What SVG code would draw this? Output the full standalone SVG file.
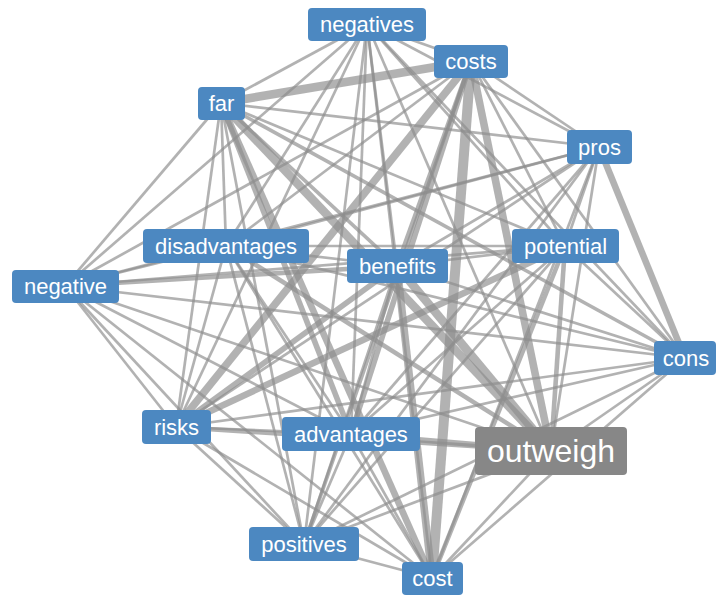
<svg xmlns="http://www.w3.org/2000/svg" width="716" height="597" viewBox="0 0 716 597">
<style>
.e{stroke:#8e8e8e;stroke-opacity:0.68;stroke-width:2.7;fill:none}
.w3{stroke-width:3.6}
.w4{stroke-width:4.6}
.w5{stroke-width:5.6}
.w6{stroke-width:6.6}
.w7{stroke-width:7.6}
.w8{stroke-width:8.6}
.w10{stroke-width:10}
.n rect{fill:#4c88c1;rx:4;ry:4}
.n text{fill:#ffffff;font-family:"Liberation Sans",Arial,Helvetica,sans-serif;font-size:22px;text-anchor:middle}
.big rect{fill:#878787}
.big text{font-size:32px}
</style>
<rect width="716" height="597" fill="#ffffff"/>
<g id="connectors">
<line class="e" x1="367" y1="24" x2="471" y2="61"/>
<line class="e" x1="367" y1="24" x2="221" y2="103"/>
<line class="e" x1="367" y1="24" x2="599" y2="147"/>
<line class="e" x1="367" y1="24" x2="226" y2="246"/>
<line class="e" x1="367" y1="24" x2="565" y2="246"/>
<line class="e" x1="367" y1="24" x2="397" y2="266"/>
<line class="e" x1="367" y1="24" x2="65" y2="286"/>
<line class="e" x1="367" y1="24" x2="685" y2="358"/>
<line class="e" x1="367" y1="24" x2="176" y2="427"/>
<line class="e" x1="367" y1="24" x2="351" y2="434"/>
<line class="e" x1="367" y1="24" x2="551" y2="451"/>
<line class="e" x1="367" y1="24" x2="304" y2="544"/>
<line class="e" x1="367" y1="24" x2="432" y2="578"/>
<line class="e w8" x1="471" y1="61" x2="221" y2="103"/>
<line class="e" x1="471" y1="61" x2="599" y2="147"/>
<line class="e" x1="471" y1="61" x2="226" y2="246"/>
<line class="e" x1="471" y1="61" x2="565" y2="246"/>
<line class="e w4" x1="471" y1="61" x2="397" y2="266"/>
<line class="e" x1="471" y1="61" x2="65" y2="286"/>
<line class="e" x1="471" y1="61" x2="685" y2="358"/>
<line class="e w7" x1="471" y1="61" x2="176" y2="427"/>
<line class="e w5" x1="471" y1="61" x2="351" y2="434"/>
<line class="e w7" x1="471" y1="61" x2="551" y2="451"/>
<line class="e w3" x1="471" y1="61" x2="304" y2="544"/>
<line class="e w10" x1="471" y1="61" x2="432" y2="578"/>
<line class="e" x1="221" y1="103" x2="599" y2="147"/>
<line class="e" x1="221" y1="103" x2="226" y2="246"/>
<line class="e" x1="221" y1="103" x2="565" y2="246"/>
<line class="e w3" x1="221" y1="103" x2="397" y2="266"/>
<line class="e" x1="221" y1="103" x2="65" y2="286"/>
<line class="e w3" x1="221" y1="103" x2="685" y2="358"/>
<line class="e" x1="221" y1="103" x2="176" y2="427"/>
<line class="e w5" x1="221" y1="103" x2="351" y2="434"/>
<line class="e w8" x1="221" y1="103" x2="551" y2="451"/>
<line class="e" x1="221" y1="103" x2="304" y2="544"/>
<line class="e w6" x1="221" y1="103" x2="432" y2="578"/>
<line class="e" x1="599" y1="147" x2="226" y2="246"/>
<line class="e" x1="599" y1="147" x2="565" y2="246"/>
<line class="e" x1="599" y1="147" x2="397" y2="266"/>
<line class="e" x1="599" y1="147" x2="65" y2="286"/>
<line class="e w6" x1="599" y1="147" x2="685" y2="358"/>
<line class="e" x1="599" y1="147" x2="176" y2="427"/>
<line class="e" x1="599" y1="147" x2="351" y2="434"/>
<line class="e" x1="599" y1="147" x2="551" y2="451"/>
<line class="e" x1="599" y1="147" x2="304" y2="544"/>
<line class="e" x1="599" y1="147" x2="432" y2="578"/>
<line class="e" x1="226" y1="246" x2="565" y2="246"/>
<line class="e" x1="226" y1="246" x2="397" y2="266"/>
<line class="e" x1="226" y1="246" x2="65" y2="286"/>
<line class="e" x1="226" y1="246" x2="685" y2="358"/>
<line class="e" x1="226" y1="246" x2="176" y2="427"/>
<line class="e" x1="226" y1="246" x2="351" y2="434"/>
<line class="e w4" x1="226" y1="246" x2="551" y2="451"/>
<line class="e" x1="226" y1="246" x2="304" y2="544"/>
<line class="e" x1="226" y1="246" x2="432" y2="578"/>
<line class="e" x1="565" y1="246" x2="397" y2="266"/>
<line class="e" x1="565" y1="246" x2="65" y2="286"/>
<line class="e" x1="565" y1="246" x2="685" y2="358"/>
<line class="e w6" x1="565" y1="246" x2="176" y2="427"/>
<line class="e" x1="565" y1="246" x2="351" y2="434"/>
<line class="e w4" x1="565" y1="246" x2="551" y2="451"/>
<line class="e" x1="565" y1="246" x2="304" y2="544"/>
<line class="e w4" x1="565" y1="246" x2="432" y2="578"/>
<line class="e w4" x1="397" y1="266" x2="65" y2="286"/>
<line class="e" x1="397" y1="266" x2="685" y2="358"/>
<line class="e w5" x1="397" y1="266" x2="176" y2="427"/>
<line class="e" x1="397" y1="266" x2="351" y2="434"/>
<line class="e w8" x1="397" y1="266" x2="551" y2="451"/>
<line class="e" x1="397" y1="266" x2="304" y2="544"/>
<line class="e w7" x1="397" y1="266" x2="432" y2="578"/>
<line class="e" x1="65" y1="286" x2="685" y2="358"/>
<line class="e" x1="65" y1="286" x2="176" y2="427"/>
<line class="e" x1="65" y1="286" x2="351" y2="434"/>
<line class="e" x1="65" y1="286" x2="551" y2="451"/>
<line class="e" x1="65" y1="286" x2="304" y2="544"/>
<line class="e" x1="65" y1="286" x2="432" y2="578"/>
<line class="e" x1="685" y1="358" x2="176" y2="427"/>
<line class="e" x1="685" y1="358" x2="351" y2="434"/>
<line class="e" x1="685" y1="358" x2="551" y2="451"/>
<line class="e" x1="685" y1="358" x2="304" y2="544"/>
<line class="e" x1="685" y1="358" x2="432" y2="578"/>
<line class="e" x1="176" y1="427" x2="351" y2="434"/>
<line class="e w4" x1="176" y1="427" x2="551" y2="451"/>
<line class="e" x1="176" y1="427" x2="304" y2="544"/>
<line class="e" x1="176" y1="427" x2="432" y2="578"/>
<line class="e w5" x1="351" y1="434" x2="551" y2="451"/>
<line class="e" x1="351" y1="434" x2="304" y2="544"/>
<line class="e" x1="351" y1="434" x2="432" y2="578"/>
<line class="e" x1="551" y1="451" x2="304" y2="544"/>
<line class="e" x1="551" y1="451" x2="432" y2="578"/>
<line class="e" x1="304" y1="544" x2="432" y2="578"/>
</g>
<g id="node-negatives" class="n"><rect x="308" y="8" width="118" height="33"/><text x="367" y="32">negatives</text></g>
<g id="node-costs" class="n"><rect x="434" y="45" width="74" height="33"/><text x="471" y="69">costs</text></g>
<g id="node-far" class="n"><rect x="198" y="87" width="47" height="33"/><text x="221.5" y="111">far</text></g>
<g id="node-pros" class="n"><rect x="567" y="130" width="65" height="34"/><text x="599.5" y="155">pros</text></g>
<g id="node-disadvantages" class="n"><rect x="143" y="229" width="166" height="34"/><text x="226" y="254">disadvantages</text></g>
<g id="node-potential" class="n"><rect x="512" y="229" width="107" height="34"/><text x="565.5" y="254">potential</text></g>
<g id="node-benefits" class="n"><rect x="347" y="249" width="101" height="34"/><text x="397.5" y="274">benefits</text></g>
<g id="node-negative" class="n"><rect x="12" y="270" width="107" height="33"/><text x="65.5" y="294">negative</text></g>
<g id="node-cons" class="n"><rect x="654" y="341" width="62" height="34"/><text x="686" y="366">cons</text></g>
<g id="node-risks" class="n"><rect x="142" y="410" width="69" height="34"/><text x="176.5" y="435">risks</text></g>
<g id="node-advantages" class="n"><rect x="282" y="417" width="138" height="34"/><text x="351" y="442">advantages</text></g>
<g id="node-outweigh" class="n big"><rect x="475" y="427" width="152" height="48"/><text x="551" y="462">outweigh</text></g>
<g id="node-positives" class="n"><rect x="249" y="527" width="110" height="34"/><text x="304" y="552">positives</text></g>
<g id="node-cost" class="n"><rect x="402" y="562" width="61" height="33"/><text x="432.5" y="586">cost</text></g>
</svg>
